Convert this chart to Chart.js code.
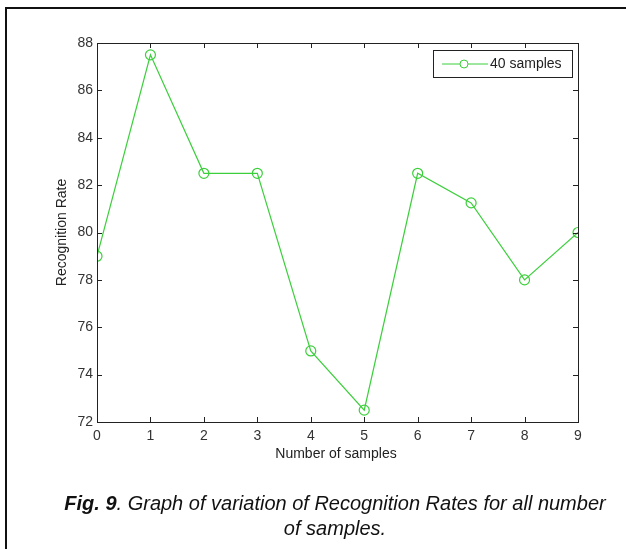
<!DOCTYPE html>
<html>
<head>
<meta charset="utf-8">
<script src="https://cdn.jsdelivr.net/npm/chart.js@4/dist/chart.umd.min.js"></script>
<style>
  html, body { margin: 0; padding: 0; background: #fff; }
  #wrap { position: relative; width: 626px; height: 549px; overflow: hidden; }
  #c { position: absolute; left: 0; top: 0; }
  .frame { position: absolute; background: #111; }
  .caption { position: absolute; left: 0; width: 670px; text-align: center;
             font-family: "Liberation Sans", Arial, sans-serif; font-style: italic;
             font-size: 20px; color: #111; }
</style>
</head>
<body>
<div id="wrap">
  <canvas id="c" width="626" height="549"></canvas>
  <div class="frame" style="left:5px; top:7px; width:2px; height:542px;"></div>
  <div class="frame" style="left:5px; top:7px; width:621px; height:2px;"></div>
  <div class="caption" style="top:492px;"><b>Fig. 9</b>. Graph of variation of Recognition Rates for all number</div>
  <div class="caption" style="top:517px;">of samples.</div>
</div>
<script>
// data
var sampleCounts = ['0', '1', '2', '3', '4', '5', '6', '7', '8', '9'];
var recognitionRates = [79, 87.5, 82.5, 82.5, 75, 72.5, 82.5, 81.25, 78, 80];
var yTicks = [72, 74, 76, 78, 80, 82, 84, 86, 88];
var seriesLabel = '40 samples';
var xTitle = 'Number of samples';
var yTitle = 'Recognition Rate';

var lineColor = '#3ccf3c';
var fontFamily = '"Liberation Sans", Arial, sans-serif';

// box, inward ticks, axis titles and legend in matlab style
var matlabFrame = {
    id: 'matlabFrame',
    afterDraw: function (chart) {
        var ctx = chart.ctx;
        var a = chart.chartArea;
        var xs = chart.scales.x, ys = chart.scales.y;
        ctx.save();
        ctx.strokeStyle = '#222';
        ctx.lineWidth = 1;
        ctx.strokeRect(Math.round(a.left) + 0.5, Math.round(a.top) + 0.5,
                       Math.round(a.right - a.left), Math.round(a.bottom - a.top));
        ctx.beginPath();
        for (var i = 0; i < sampleCounts.length; i++) {
            var px = Math.round(xs.getPixelForValue(i)) + 0.5;
            ctx.moveTo(px, a.bottom); ctx.lineTo(px, a.bottom - 5);
            ctx.moveTo(px, a.top); ctx.lineTo(px, a.top + 5);
        }
        for (var j = 0; j < yTicks.length; j++) {
            var py = Math.round(ys.getPixelForValue(yTicks[j])) + 0.5;
            ctx.moveTo(a.left, py); ctx.lineTo(a.left + 5, py);
            ctx.moveTo(a.right, py); ctx.lineTo(a.right - 5, py);
        }
        ctx.stroke();

        // axis titles
        ctx.fillStyle = '#222';
        ctx.font = '14px ' + fontFamily;
        ctx.textAlign = 'center';
        ctx.textBaseline = 'middle';
        ctx.fillText(xTitle, 336, 454);
        ctx.save();
        ctx.translate(62, (a.top + a.bottom) / 2);
        ctx.rotate(-Math.PI / 2);
        ctx.fillText(yTitle, 0, 0);
        ctx.restore();

        // legend
        var lx = 433, ly = 50, lw = 139, lh = 27;
        ctx.fillStyle = '#fff';
        ctx.fillRect(lx, ly, lw, lh);
        ctx.strokeStyle = '#222';
        ctx.strokeRect(lx + 0.5, ly + 0.5, lw, lh);
        var my = ly + lh / 2 + 0.5;
        ctx.strokeStyle = lineColor;
        ctx.beginPath();
        ctx.moveTo(lx + 9, my); ctx.lineTo(lx + 55, my);
        ctx.stroke();
        ctx.beginPath();
        ctx.arc(lx + 31, my, 4, 0, Math.PI * 2);
        ctx.fillStyle = '#fff';
        ctx.fill();
        ctx.stroke();
        ctx.fillStyle = '#222';
        ctx.textAlign = 'left';
        ctx.fillText(seriesLabel, lx + 57, my);
        ctx.restore();
    }
};

var ctx = document.getElementById('c').getContext('2d');
var chart = new Chart(ctx, {
    type: 'line',
    data: {
        labels: sampleCounts,
        datasets: [{
            label: seriesLabel,
            data: recognitionRates,
            borderColor: lineColor,
            borderWidth: 1.2,
            pointStyle: 'circle',
            pointRadius: 5,
            pointBorderWidth: 1.2,
            pointBackgroundColor: 'rgba(255,255,255,0)',
            pointBorderColor: lineColor,
            tension: 0
        }]
    },
    plugins: [matlabFrame],
    options: {
        responsive: false,
        animation: false,
        layout: { padding: { left: 0, top: 43, right: 48, bottom: 0 } },
        plugins: { legend: { display: false }, tooltip: { enabled: false } },
        scales: {
            x: {
                type: 'linear',
                min: 0,
                max: 9,
                afterFit: function (s) { s.height = 127; },
                afterBuildTicks: function (s) {
                    s.ticks = sampleCounts.map(function (v) { return { value: Number(v) }; });
                },
                grid: { display: false, drawTicks: false },
                border: { display: false },
                ticks: {
                    padding: 6,
                    maxRotation: 0,
                    color: '#333',
                    font: { family: fontFamily, size: 14 },
                    callback: function (v) { return sampleCounts[v]; }
                }
            },
            y: {
                min: 72,
                max: 88,
                afterFit: function (s) { s.width = 97; },
                afterBuildTicks: function (s) {
                    s.ticks = yTicks.map(function (v) { return { value: v }; });
                },
                grid: { display: false, drawTicks: false },
                border: { display: false },
                ticks: {
                    padding: 4,
                    color: '#333',
                    font: { family: fontFamily, size: 14 }
                }
            }
        }
    }
});
</script>
</body>
</html>
